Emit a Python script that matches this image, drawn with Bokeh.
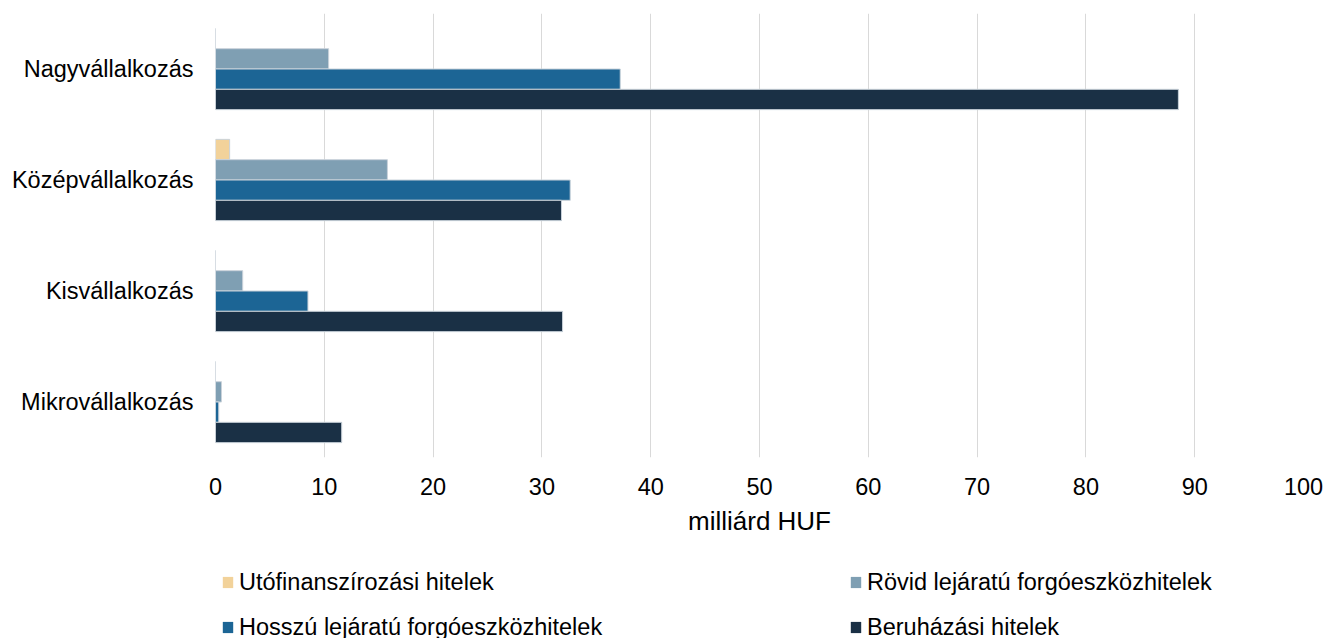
from bokeh.plotting import figure
from bokeh.models import (ColumnDataSource, FactorRange, Range1d, FixedTicker,
                          Legend, LegendItem)
from bokeh.layouts import column
from bokeh.transform import dodge
from bokeh.embed import file_html
from bokeh.resources import INLINE

# ---- data ----
categories = ["Nagyvállalkozás", "Középvállalkozás", "Kisvállalkozás", "Mikrovállalkozás"]
series_names = ["Utófinanszírozási hitelek", "Rövid lejáratú forgóeszközhitelek",
                "Hosszú lejáratú forgóeszközhitelek", "Beruházási hitelek"]
utofinanszirozasi = [0.0, 1.3, 0.0, 0.0]
rovid = [10.4, 15.8, 2.5, 0.55]
hosszu = [37.2, 32.6, 8.5, 0.3]
beruhazasi = [88.5, 31.8, 31.9, 11.6]
x_ticks = [0, 10, 20, 30, 40, 50, 60, 70, 80, 90, 100]
x_label = "milliárd HUF"

colors = ["#f2d29a", "#7f9fb3", "#1c6595", "#1a3045"]
FONT = "Liberation Sans"
FS = "23.5px"

source = ColumnDataSource(dict(cat=categories, u=utofinanszirozasi, r=rovid,
                               h=hosszu, b=beruhazasi))

y_range = FactorRange(factors=list(reversed(categories)), range_padding=0)

p = figure(width=1325, height=545, y_range=y_range, x_range=Range1d(0, 100),
           title=None, output_backend="svg", toolbar_location=None,
           min_border_left=215, min_border_right=22,
           min_border_top=13, min_border_bottom=88)

bh = 0.183
offsets = [1.5 * bh, 0.5 * bh, -0.5 * bh, -1.5 * bh]
fields = ["u", "r", "h", "b"]
for f, off, c in zip(fields, offsets, colors):
    p.hbar(y=dodge("cat", off, range=y_range), left=0, right=f, height=bh,
           source=source, fill_color=c, line_color="#c9d2da", line_width=1)

# axes
p.xaxis.ticker = FixedTicker(ticks=x_ticks)
p.xaxis.axis_label = x_label
p.xaxis.axis_line_color = None
p.xaxis.major_tick_line_color = None
p.xaxis.minor_tick_line_color = None
p.xaxis.major_label_standoff = 14
p.xaxis.major_label_text_font = FONT
p.xaxis.major_label_text_font_size = FS
p.xaxis.major_label_text_color = "#000000"
p.xaxis.axis_label_text_font = FONT
p.xaxis.axis_label_text_font_size = "26px"
p.xaxis.axis_label_text_font_style = "normal"
p.xaxis.axis_label_text_color = "#000000"
p.xaxis.axis_label_standoff = 8

p.yaxis.axis_line_color = None
p.yaxis.major_tick_line_color = None
p.yaxis.minor_tick_line_color = None
p.yaxis.major_label_standoff = 16
p.yaxis.major_label_text_font = FONT
p.yaxis.major_label_text_font_size = FS
p.yaxis.major_label_text_color = "#000000"

p.xgrid.grid_line_color = "#d9d9d9"
p.xgrid.grid_line_width = 1
p.ygrid.grid_line_color = None
p.outline_line_color = None
p.background_fill_color = "white"
p.border_fill_color = "white"

# ---- legend strip (frame is aligned with the chart's frame by the column) ----
lg = figure(width=1325, height=93, x_range=Range1d(0, 1), y_range=Range1d(0, 1),
            title=None, output_backend="svg", toolbar_location=None,
            x_axis_location=None, y_axis_location=None,
            min_border_left=0, min_border_right=0, min_border_top=0, min_border_bottom=0)
lg.xgrid.visible = False
lg.ygrid.visible = False
lg.outline_line_color = None
# hidden placeholder glyphs: only their legend swatches are shown
hidden = ColumnDataSource(dict(y=[0.5], left=[0], right=[1]))
items = []
for n, c in zip(series_names, colors):
    r = lg.hbar(y="y", right="right", left="left", height=0.1, source=hidden,
                fill_color=c, line_color=None, visible=False)
    items.append(LegendItem(label=n, renderers=[r]))

legend = Legend(items=items, orientation="horizontal", ncols=2,
                location=(6, -2.5),
                glyph_width=13, glyph_height=14, label_standoff=5,
                label_width=592, label_height=24, spacing=18,
                padding=0, margin=0,
                border_line_color=None, background_fill_alpha=0,
                inactive_fill_alpha=0,
                label_text_font=FONT, label_text_font_size=FS,
                label_text_color="#000000")
lg.add_layout(legend, "center")

layout = column(p, lg, spacing=0)
open("out.html", "w").write(file_html(layout, INLINE))
